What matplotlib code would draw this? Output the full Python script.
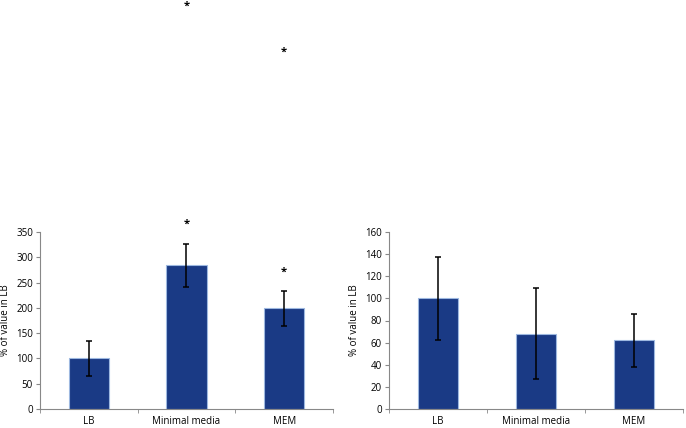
import matplotlib
matplotlib.use("Agg")
import matplotlib.pyplot as plt
import numpy as np

categories = ["LB", "Minimal media", "MEM"]
left_values = [100, 284, 199]
left_errors = [35, 43, 35]
right_values = [100, 68, 62]
right_errors = [37.5, 41, 24]
left_star_y = [368, 273]     # asterisks above Minimal media and MEM
stray_star_y = [799, 708]    # stray asterisks at top of figure

plt.rcParams['font.family'] = ['Open Sans', 'DejaVu Sans']
bar_color = "#1a3a85"
edge_color = "#9db8e0"

fig = plt.figure(figsize=(6.86, 4.28), dpi=100)
W, H = 686, 428
axL = fig.add_axes([40/W, (428-409)/H, (333-40)/W, (409-232)/H])
axR = fig.add_axes([389/W, (428-409)/H, (683-389)/W, (409-232)/H])

def style(ax, vals, errs, ymax, step):
    x = np.arange(len(categories))
    ax.bar(x, vals, width=0.41, color=bar_color, edgecolor=edge_color, linewidth=0.8,
           yerr=errs, capsize=2.5, error_kw=dict(elinewidth=1.1, capthick=1.1, ecolor="black"))
    ax.set_xlim(-0.5, len(categories) - 0.5)
    ax.set_ylim(0, ymax)
    ax.set_yticks(np.arange(0, ymax + 1, step))
    ax.set_xticks(x)
    ax.set_xticklabels(categories, fontsize=7)
    ax.set_xticks(np.arange(-0.5, len(categories)), minor=True)
    ax.tick_params(axis='x', which='major', length=0, pad=5)
    ax.tick_params(axis='x', which='minor', length=3, color="#888888")
    ax.tick_params(axis='y', labelsize=7, length=3, color="#888888", pad=2)
    for s in ["top", "right"]:
        ax.spines[s].set_visible(False)
    for s in ["left", "bottom"]:
        ax.spines[s].set_color("#888888")
    ax.set_ylabel("% of value in LB", fontsize=7, labelpad=4)

style(axL, left_values, left_errors, 350, 50)
style(axR, right_values, right_errors, 160, 20)

for ys in (left_star_y, stray_star_y):
    for xi, yv in zip([1, 2], ys):
        axL.text(xi, yv - 2, "*", ha="center", va="center", fontsize=8,
                 fontweight="bold", clip_on=False)

fig.savefig("out.png", dpi=100)
